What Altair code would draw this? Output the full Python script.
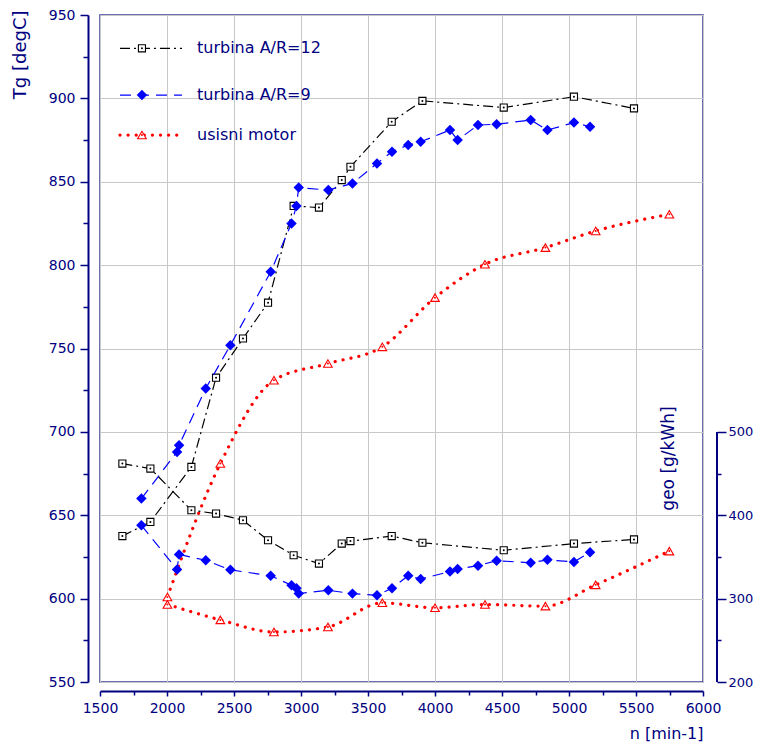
import altair as alt
import pandas as pd

# ---- data ----
SERIES = ["turbina A/R=12", "turbina A/R=9", "usisni motor"]

N_A12 = [1667, 1876, 2182, 2366, 2567, 2754, 2945, 3134, 3304, 3369, 3677, 3906, 4513, 5037, 5485]
TG_A12 = [637.5, 646, 679, 732.5, 756, 777.5, 835.5, 834.5, 851, 859, 886, 898.5, 894.5, 901, 894]
GEO_A12 = [462, 456, 406, 402, 394, 370, 352, 342, 366, 369, 375, 367, 358, 366, 371]

N_A9 = [1809, 2075, 2090, 2289, 2473, 2774, 2929, 2966, 2983, 3204, 3384, 3567, 3679, 3800, 3893,
        4112, 4169, 4321, 4460, 4714, 4839, 5037, 5157]
TG_A9 = [660, 688, 692, 726, 752, 796, 825, 835.5, 846.5, 845, 849, 861, 868, 872, 874,
         881, 875, 884, 884.5, 887, 881, 885.5, 883]
GEO_A9 = [388, 335, 353, 346, 334.5, 327.5, 316, 312.5, 306, 310, 306, 304, 312.5, 327.5, 323.5,
          332.5, 335.5, 339.5, 345.5, 343, 346.5, 344, 355.5]

N_U = [2003, 2398, 2798, 3201, 3607, 4000, 4373, 4824, 5199, 5749]
TG_U = [601, 681, 731, 741, 751, 780.5, 800.5, 810.5, 820.5, 830.5]
GEO_U = [293, 274.5, 260, 266, 295, 289, 293, 291, 316.5, 357]

X_TICKS = list(range(1500, 6001, 250))
TG_TICKS = list(range(550, 951, 25))
GEO_TICKS = list(range(200, 501, 50))

# legend placement (in data units)
LEG_N_START, LEG_N_END, LEG_N_MARK, LEG_N_TEXT = 1649, 2112, 1813, 2224
LEG_TG = [930, 902, 878]

NAVY = "#000080"
FRAME = "#3c3ca0"
FONT = "DejaVu Sans"
GRID = "#c8c8c8"

W, H = 603, 667

x_enc = alt.X(
    "n:Q",
    scale=alt.Scale(domain=[1500, 6000], nice=False, zero=False),
    axis=alt.Axis(
        values=X_TICKS, format="d",
        labelExpr="datum.value % 500 === 0 ? datum.label : ''",
        offset=9, domainColor=NAVY, domainWidth=2, tickColor=NAVY, tickWidth=1.5,
        tickSize={"condition": {"test": "datum.value % 500 === 0", "value": 5}, "value": 4},
        grid=True, gridColor=GRID,
        gridOpacity={"condition": {"test": "datum.value % 500 === 0", "value": 1}, "value": 0},
        labelColor=NAVY, labelFont=FONT, labelFontSize=14, labelPadding=5, labelFlush=False,
        title="n [min-1]", titleColor=NAVY, titleFont=FONT, titleFontSize=16, titleFontWeight="normal",
        titleAlign="right", titleBaseline="middle", titleX=W, titleY=42, titleAngle=0,
    ),
)

y_tg = alt.Y(
    "tg:Q",
    scale=alt.Scale(domain=[550, 950], nice=False, zero=False),
    axis=alt.Axis(
        orient="left", values=TG_TICKS, format="d",
        labelExpr="datum.value % 50 === 0 ? datum.label : ''",
        offset=12, domainColor=NAVY, domainWidth=2, tickColor=NAVY, tickWidth=1.5,
        tickSize={"condition": {"test": "datum.value % 50 === 0", "value": 8}, "value": 5},
        grid=True, gridColor=GRID,
        gridOpacity={"condition": {"test": "datum.value % 50 === 0", "value": 1}, "value": 0},
        labelColor=NAVY, labelFont=FONT, labelFontSize=14, labelPadding=5, labelFlush=False,
        title="Tg [degC]", titleColor=NAVY, titleFont=FONT, titleFontSize=18, titleFontWeight="normal",
        titleAngle=270, titleAlign="right", titleBaseline="middle", titleX=-68, titleY=-5,
    ),
)

y_geo = alt.Y(
    "geo:Q",
    scale=alt.Scale(domain=[200, 1000], nice=False, zero=False),
    axis=alt.Axis(
        orient="right", values=GEO_TICKS, format="d",
        labelExpr="datum.value % 100 === 0 ? datum.label : ''",
        offset=14, domain=False, tickColor=NAVY, tickWidth=1.5,
        tickSize={"condition": {"test": "datum.value % 100 === 0", "value": 9}, "value": 4},
        grid=False,
        labelColor=NAVY, labelFont=FONT, labelFontSize=13, labelPadding=2, labelFlush=False,
        title="geo [g/kWh]", titleColor=NAVY, titleFont=FONT, titleFontSize=17, titleFontWeight="normal",
        titleAngle=270, titleAlign="center", titleBaseline="middle", titleX=-49, titleY=443,
    ),
)

STYLES = [
    dict(color="black", dash=[10, 4, 2, 4], width=1.2, cap="butt", interp="linear",
         shape="square", size=50, hollow=True),
    dict(color="#0000ff", dash=[11, 7], width=1.2, cap="butt", interp="linear",
         shape="diamond", size=110, hollow=False),
    dict(color="#ff0000", dash=[0.1, 8], width=3.2, cap="round", interp="monotone",
         shape="triangle-up", size=75, hollow=True),
]

DATA = [
    (N_A12, TG_A12, GEO_A12),
    (N_A9, TG_A9, GEO_A9),
    (N_U, TG_U, GEO_U),
]


def markers(df, y, st):
    if st["hollow"]:
        sym = alt.Chart(df).mark_point(
            shape=st["shape"], size=st["size"], filled=True, fill="white",
            stroke=st["color"], strokeWidth=1.1, opacity=1,
        ).encode(x=x_enc, y=y)
        dot = alt.Chart(df).mark_circle(size=4, color=st["color"], opacity=1).encode(x=x_enc, y=y)
        return [sym, dot]
    sym = alt.Chart(df).mark_point(
        shape=st["shape"], size=st["size"], filled=True, color=st["color"], opacity=1,
    ).encode(x=x_enc, y=y)
    return [sym]


def line(df, y, st):
    return alt.Chart(df).mark_line(
        color=st["color"], strokeDash=st["dash"], strokeWidth=st["width"],
        strokeCap=st["cap"], interpolate=st["interp"],
    ).encode(x=x_enc, y=y)


tg_layers = []
geo_layers = []
for (ns, tgs, geos), st in zip(DATA, STYLES):
    df = pd.DataFrame({"n": ns, "tg": tgs, "geo": geos})
    tg_layers.append(line(df, y_tg, st))
    tg_layers += markers(df, y_tg, st)
    geo_layers.append(line(df, y_geo, st))
    geo_layers += markers(df, y_geo, st)

# legend built in data space
for i, st in enumerate(STYLES):
    seg = pd.DataFrame({"n": [LEG_N_START, LEG_N_END], "tg": [LEG_TG[i]] * 2})
    tg_layers.append(alt.Chart(seg).mark_line(
        color=st["color"], strokeDash=st["dash"], strokeWidth=st["width"], strokeCap=st["cap"],
    ).encode(x=x_enc, y=y_tg))
    mk = pd.DataFrame({"n": [LEG_N_MARK], "tg": [LEG_TG[i]]})
    tg_layers += markers(mk, y_tg, st)
    tx = pd.DataFrame({"n": [LEG_N_TEXT], "tg": [LEG_TG[i]], "label": [SERIES[i]]})
    tg_layers.append(alt.Chart(tx).mark_text(
        align="left", baseline="middle", font=FONT, fontSize=16, color=NAVY,
    ).encode(x=x_enc, y=y_tg, text="label:N"))

# right axis line spanning only 200..500
geo_axis_df = pd.DataFrame({"geo": [200], "geo2": [500]})
geo_layers.append(alt.Chart(geo_axis_df).mark_rule(color=NAVY, strokeWidth=2).encode(
    x=alt.value(W + 14), y=y_geo, y2="geo2:Q"))

tg_chart = alt.layer(*tg_layers)
geo_chart = alt.layer(*geo_layers)

chart = alt.layer(tg_chart, geo_chart).resolve_scale(y="independent").properties(
    width=W, height=H,
    autosize=alt.AutoSizeParams(type="none"),
    padding={"left": 92, "top": 7, "right": 50, "bottom": 60},
).configure_view(stroke=FRAME, strokeWidth=1.5)

chart.save("out.html", embed_options={"renderer": "svg", "actions": False})
